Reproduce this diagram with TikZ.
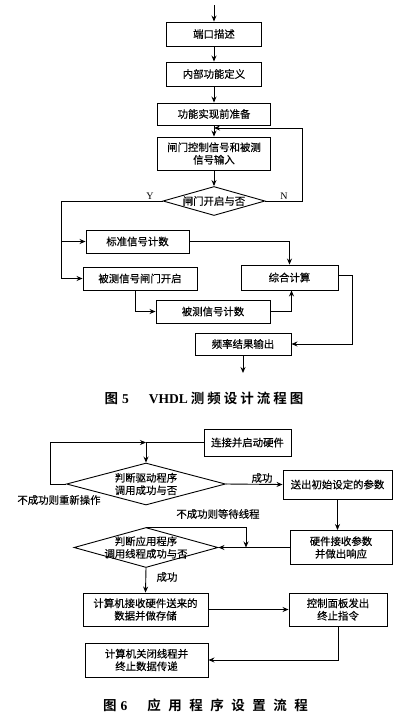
\documentclass[tikz,border=0pt]{standalone}
\usepackage{fontspec}
\setmainfont{Liberation Serif}
\newfontfamily\cjk[FakeBold=0.4, BoldFont={Noto Sans CJK SC Bold}, BoldFeatures={FakeBold=0}]{Noto Sans CJK SC}
\usetikzlibrary{positioning}
\usetikzlibrary{calc}
\usetikzlibrary{arrows.meta}
\usetikzlibrary{shapes.geometric}

\begin{document}
\begin{tikzpicture}[x=1pt, y=-1pt, line width=0.9pt,
    every node/.style={font=\cjk\fontsize{10.4}{12.5}\selectfont},
    box/.style={draw, rectangle, align=center, inner sep=1pt},
    cond/.style={draw, diamond, align=center, inner sep=-5pt, aspect=3.6},
    arr/.style={-{Stealth[length=6pt,width=5pt]}},
    captext/.style={font=\cjk\bfseries\fontsize{13.5}{15}\selectfont}]
    \useasboundingbox (0,0) rectangle (417,724);

    % figure 5
    \coordinate (in) at (214,5);
    \node[box, minimum width=95, minimum height=24] (port) at (214,34) {端口描述};
    \node[box, minimum width=95, minimum height=24] (inner) at (214,74) {内部功能定义};
    \node[box, minimum width=113, minimum height=22] (prep) at (214,114) {功能实现前准备};
    \node[box, minimum width=113, minimum height=33] (gatein) at (214,153.5) {闸门控制信号和被测\\信号输入};
    \node[cond, minimum width=102, minimum height=29] (gate) at (214,201) {闸门开启与否};
    \node[box, minimum width=103, minimum height=23] (stdcnt) at (137.5,241.5) {标准信号计数};
    \node[box, minimum width=114, minimum height=23] (gateon) at (140,278.5) {被测信号闸门开启};
    \node[box, minimum width=97, minimum height=25] (calc) at (289.5,277.5) {综合计算};
    \node[box, minimum width=114, minimum height=23] (meascnt) at (213,311.5) {被测信号计数};
    \node[box, minimum width=96, minimum height=22] (result) at (243,344) {频率结果输出};
    \coordinate (out) at (243,373);
    \coordinate (back) at (214,128);
    \coordinate (yl) at (61,201);

    \draw[arr] (in) -- (port);
    \draw[arr] (port) -- (inner);
    \draw[arr] (inner) -- (prep);
    \draw[arr] (prep) -- (gatein);
    \draw[arr] (gatein) -- (gate);
    \draw[arr] (gate.east) -- ++(37,0) |- (back);
    \draw[arr] (gate.west) -- (yl) |- (gateon.west);
    \draw[arr] (yl |- stdcnt.west) -- (stdcnt.west);
    \draw[arr] (stdcnt.east) -| (calc.north);
    \draw[arr] ([xshift=-5]gateon.south) |- (meascnt.west);
    \draw[arr] (meascnt.east) -| ([xshift=2]calc.south);
    \draw[arr] ([yshift=2]calc.east) -- ++(14,0) |- (result.east);
    \draw[arr] (result) -- (out);
    \node[font=\fontsize{10}{12}\selectfont] (ylab) at (150,196) {Y};
    \node[font=\fontsize{10}{12}\selectfont] (nlab) at (284,196) {N};
    \node[captext] (cap5) at (204,398) {图\hspace{4pt}{\rmfamily\bfseries 5}\hspace{20pt}{\rmfamily\bfseries VHDL}\hspace{3pt}测\hspace{3pt}频\hspace{3pt}设\hspace{3pt}计\hspace{3pt}流\hspace{3pt}程\hspace{3pt}图};

    % figure 6
    \node[box, minimum width=87, minimum height=27] (hw) at (247.5,442.5) {连接并启动硬件};
    \node[cond, minimum width=159, minimum height=42] (drv) at (146,484) {判断驱动程序\\调用成功与否};
    \node[box, minimum width=109, minimum height=29] (param) at (337.5,484.5) {送出初始设定的参数};
    \node[box, minimum width=102, minimum height=34] (ack) at (341,547.5) {硬件接收参数\\并做出响应};
    \node[cond, minimum width=144, minimum height=40] (app) at (146,547.5) {判断应用程序\\调用线程成功与否};
    \node[box, minimum width=125, minimum height=33] (store) at (145.5,609.5) {计算机接收硬件送来的\\数据并做存储};
    \node[box, minimum width=98, minimum height=33] (stop) at (338,609.5) {控制面板发出\\终止指令};
    \node[box, minimum width=123, minimum height=34] (close) at (146.5,660) {计算机关闭线程并\\终止数据传递};
    \coordinate (jn) at (146,442.5);
    \coordinate (wt) at (246,547.5);

    \draw (hw.west) -- (jn);
    \draw[arr] (jn) -- (drv.north);
    \draw[arr] (drv.west) -- ++(-16,0) |- (jn);
    \draw[arr] (drv.east) -- (param.west);
    \draw[arr] (param.south) -- (param.south |- ack.north);
    \draw[arr] (ack.west) -- (app.east);
    \draw[arr] (app.north) -| (wt);
    \draw[arr] (app.south) -- (store.north);
    \draw[arr] (store.east) -- (stop.west);
    \draw[arr] (stop.south) |- (close.east);
    \node (retry) at (59,500) {不成功则重新操作};
    \node (ok1) at (262,478) {成功};
    \node (wait) at (218,514) {不成功则等待线程};
    \node (ok2) at (167,577) {成功};
    \node[captext] (cap6) at (205.5,705) {图\hspace{4pt}{\rmfamily\bfseries 6}\hspace{20pt}应\hspace{7.5pt}用\hspace{7.5pt}程\hspace{7.5pt}序\hspace{7.5pt}设\hspace{7.5pt}置\hspace{7.5pt}流\hspace{7.5pt}程};
\end{tikzpicture}
\end{document}
